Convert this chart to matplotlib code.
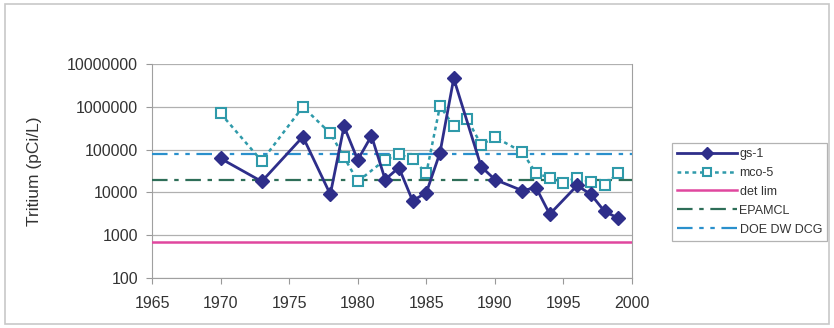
import matplotlib
matplotlib.use("Agg")
import matplotlib.pyplot as plt
from matplotlib.patches import Rectangle

plt.rcParams["font.family"] = ["Liberation Sans", "DejaVu Sans"]

# gs-1 well
gs1_years = [1970, 1973, 1976, 1978, 1979, 1980, 1981, 1982, 1983, 1984, 1985,
             1986, 1987, 1989, 1990, 1992, 1993, 1994, 1996, 1997, 1998, 1999]
gs1_vals = [62000, 18000, 200000, 9000, 350000, 57000, 210000, 20000, 38000, 6400, 9800,
            85000, 4600000, 40000, 20000, 11000, 13000, 3100, 14500, 9000, 3600, 2500]

# mco-5 well
mco5_years = [1970, 1973, 1976, 1978, 1979, 1980, 1982, 1983, 1984, 1985, 1986,
              1987, 1988, 1989, 1990, 1992, 1993, 1994, 1995, 1996, 1997, 1998, 1999]
mco5_vals = [700000, 54000, 1000000, 240000, 67000, 18000, 58000, 78000, 60000, 28000, 1050000,
             350000, 510000, 130000, 195000, 88000, 28000, 22000, 17000, 22000, 17500, 15000, 28000]

# reference limits (pCi/L)
det_lim = 700
epa_mcl = 20000
doe_dcg = 80000
x_range = [1965, 2000]

fig = plt.figure(figsize=(8.34, 3.28), dpi=100)
fig.patches.append(Rectangle((0.006, 0.012), 0.988, 0.975, transform=fig.transFigure,
                             fill=False, edgecolor="#c8c8c8", linewidth=1.2))
ax = fig.add_axes([0.1823, 0.1524, 0.5755, 0.6525])

ax.plot(gs1_years, gs1_vals, color="#2e2e8a", linewidth=2, marker="D", markersize=7,
        markerfacecolor="#2e2e8a", label="gs-1", zorder=5)
ax.plot(mco5_years, mco5_vals, color="#2f9aaa", linewidth=1.8, linestyle=(0, (1.5, 1.5)),
        marker="s", markersize=7.5, markerfacecolor="white", markeredgecolor="#2f9aaa",
        markeredgewidth=1.5, label="mco-5", zorder=4)
ax.plot(x_range, [det_lim, det_lim], color="#e0479e", linewidth=1.8, label="det lim", zorder=3)
ax.plot(x_range, [epa_mcl, epa_mcl], color="#2e6e58", linewidth=1.6,
        linestyle=(0, (7, 3, 2, 3)), label="EPAMCL", zorder=3)
ax.plot(x_range, [doe_dcg, doe_dcg], color="#2a90cc", linewidth=1.6,
        linestyle=(0, (7, 3, 2, 3, 2, 3)), label="DOE DW DCG", zorder=3)

ax.set_yscale("log")
ax.set_ylim(100, 1e7)
ax.set_xlim(1965, 2000)
ax.set_yticks([100, 1000, 10000, 100000, 1000000, 10000000])
ax.set_yticklabels(["100", "1000", "10000", "100000", "1000000", "10000000"])
ax.minorticks_off()
ax.set_xticks(range(1965, 2001, 5))
ax.tick_params(axis="both", labelsize=11.5, labelcolor="#333333", color="#999999",
               length=4, width=0.8)
ax.tick_params(axis="y", pad=6)
ax.tick_params(axis="x", pad=9)
ax.grid(True, axis="y", color="#b0b0b0", linewidth=0.9)
ax.set_axisbelow(True)
ax.spines["top"].set_visible(False)
for s in ["left", "bottom", "right"]:
    ax.spines[s].set_color("#a0a0a0")
ax.set_ylabel("Tritium (pCi/L)", fontsize=12.5, color="#333333", labelpad=18)

leg = ax.legend(loc="upper left", bbox_to_anchor=(672 / 834, 1 - 143 / 328),
                bbox_transform=fig.transFigure, fontsize=9, frameon=True,
                fancybox=False, handlelength=4.8, borderaxespad=0, labelspacing=0.55,
                handletextpad=0.2, borderpad=0.4)
leg.get_frame().set_edgecolor("#a0a0a0")
leg.get_frame().set_linewidth(0.9)
for text in leg.get_texts():
    text.set_color("#333333")
for line in leg.get_lines():
    line.set_markersize(6)

fig.savefig("out.png", dpi=100)
